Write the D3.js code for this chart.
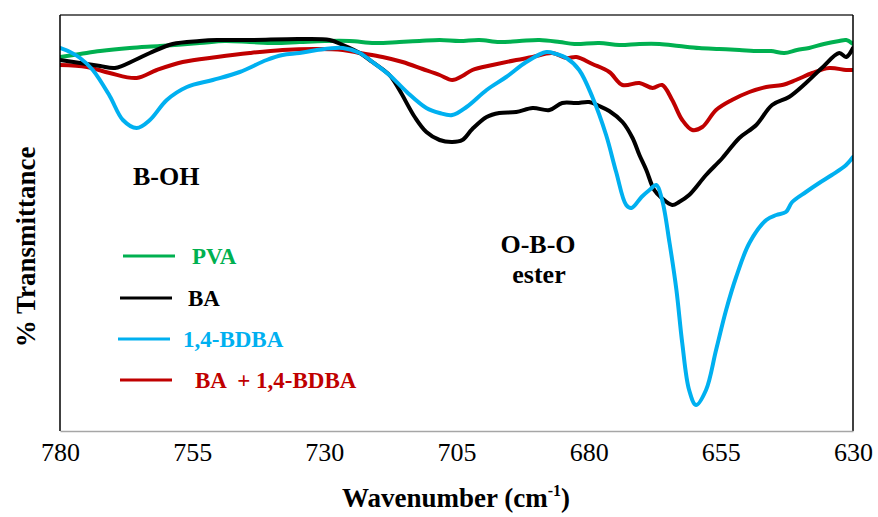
<!DOCTYPE html>
<html>
<head>
<meta charset="utf-8">
<script src="https://cdn.jsdelivr.net/npm/d3@7/dist/d3.min.js"></script>
</head>
<body style="margin:0">
<svg id="chart" width="878" height="517" style="display:block"></svg>
<script>
// FTIR spectra, 780-630 cm-1 (transmittance, arbitrary offset scale)
const xTicks = [780, 755, 730, 705, 680, 655, 630];

const pvaWave = [780.0,776.2,772.4,766.8,761.1,753.6,748.8,744.1,739.4,734.7,729.9,725.2,720.5,715.8,712.0,708.2,704.4,700.7,696.9,693.1,689.3,685.5,682.7,678.0,674.2,670.4,666.6,662.9,659.1,655.3,651.5,647.8,645.5,643.0,640.6,638.3,635.5,632.6,631.3,630.0];
const pvaT    = [93.5,94.25,95.0,95.75,96.25,97.0,97.5,97.25,97.0,97.25,97.5,97.5,97.0,97.25,97.5,97.75,97.5,97.75,97.25,97.5,97.75,97.25,96.75,97.0,96.5,96.75,96.75,96.25,95.75,95.5,95.25,95.0,95.0,94.5,95.25,95.75,96.75,97.5,97.75,96.75];

const baWave = [780.0,776.2,772.4,769.6,765.8,763.0,758.7,753.6,750.3,744.1,734.7,729.0,726.5,723.3,720.9,717.7,715.8,712.9,710.7,708.2,705.8,703.9,702.0,699.3,696.9,693.7,690.6,687.4,685.0,682.3,679.9,678.0,676.1,673.6,671.7,670.4,669.1,667.6,666.2,664.2,662.9,661.0,657.8,654.7,651.5,648.3,645.3,642.1,638.9,635.9,632.6,631.3,630.0];
const baT    = [92.75,92.0,91.25,90.75,92.75,94.5,96.75,97.5,97.75,97.75,98.0,97.75,96.5,94.5,92.25,89.0,85.25,78.5,74.75,72.75,72.25,72.75,75.5,78.5,79.5,79.75,80.75,80.25,82.0,82.0,82.25,81.25,80.0,77.25,73.25,69.0,65.25,60.25,58.25,56.5,57.25,59.0,64.0,68.25,73.25,76.5,81.5,83.5,87.0,90.75,94.5,93.5,95.75];

const bdbaWave = [780.0,778.1,776.2,773.8,770.6,768.1,765.5,763.0,759.8,756.0,751.1,746.0,740.9,737.9,734.7,731.4,726.5,723.3,720.9,717.7,714.4,710.7,708.2,705.8,703.1,699.3,695.6,691.8,688.0,686.1,684.2,681.8,679.3,676.7,674.8,672.9,671.9,670.0,668.5,667.2,666.1,664.7,663.4,662.3,661.0,659.7,657.8,655.9,654.0,652.1,649.6,646.4,644.5,642.7,641.5,638.9,636.4,634.0,631.3,630.0];
const bdbaT    = [95.75,94.75,93.25,90.25,83.75,77.75,75.75,77.75,82.75,86.0,87.75,89.75,92.75,94.0,94.5,95.25,95.75,94.5,92.25,89.0,84.75,80.75,79.5,79.0,81.0,85.25,88.5,92.25,94.75,94.25,93.25,90.25,83.5,74.0,64.75,56.5,55.75,58.5,60.25,61.5,57.75,47.0,35.25,22.0,10.25,6.5,10.25,20.25,30.25,38.5,47.0,52.75,54.0,54.75,57.25,59.75,62.0,64.0,66.5,68.5];

const mixWave = [780.0,774.9,770.6,765.5,761.7,756.8,750.3,744.1,737.9,731.4,726.5,723.3,719.0,715.2,711.4,708.2,705.8,703.9,702.0,698.2,693.7,690.6,686.9,684.2,682.3,679.3,676.1,673.6,670.4,667.9,666.1,664.2,662.3,660.4,658.5,655.9,652.9,649.6,646.4,643.4,640.8,637.7,634.5,631.3,630.0];
const mixT    = [91.5,91.0,89.5,88.25,90.25,92.25,93.5,94.5,95.25,95.5,95.25,94.5,93.5,92.25,90.5,89.0,87.75,88.75,90.25,91.5,92.75,93.5,94.5,93.25,93.5,91.75,89.75,86.5,87.0,85.75,86.5,82.75,77.75,75.25,76.0,80.25,82.75,84.75,86.0,86.5,87.75,89.5,90.75,90.25,90.25];

const seriesNames  = ["PVA", "BA", "1,4-BDBA", "BA  + 1,4-BDBA"];
const seriesColors = ["#00B050", "#000000", "#00B0F0", "#C00000"];

const series = [
  { name: seriesNames[0], color: seriesColors[0], wave: pvaWave,  t: pvaT },
  { name: seriesNames[1], color: seriesColors[1], wave: baWave,   t: baT },
  { name: seriesNames[2], color: seriesColors[2], wave: bdbaWave, t: bdbaT },
  { name: seriesNames[3], color: seriesColors[3], wave: mixWave,  t: mixT }
];

const FONT = '"Liberation Serif"';

// serif text styling, given priority over any inherited font rules
function serif(sel, size, bold) {
  sel.attr("font-family", "Liberation Serif")
     .style("font-family", FONT, "important")
     .style("font-size", size + "px", "important");
  if (bold) sel.style("font-weight", "bold", "important");
  return sel;
}

const svg = d3.select("#chart");
const plot = { left: 60, right: 853, top: 15, bottom: 431 };

const x = d3.scaleLinear().domain([780, 630]).range([plot.left, plot.right]);
const y = d3.scaleLinear().domain([0, 104]).range([plot.bottom, plot.top]);

svg.append("defs").append("clipPath").attr("id", "plotClip")
  .append("rect")
  .attr("x", plot.left).attr("y", plot.top)
  .attr("width", plot.right - plot.left).attr("height", plot.bottom - plot.top);

const line = d3.line()
  .x(d => x(d[0]))
  .y(d => y(d[1]))
  .curve(d3.curveCatmullRom.alpha(0.5));

// draw order: mixture, PVA, BA, 1,4-BDBA on top
const drawOrder = [3, 0, 1, 2];
const gLines = svg.append("g").attr("clip-path", "url(#plotClip)");
drawOrder.forEach(i => {
  const s = series[i];
  gLines.append("path")
    .datum(s.wave.map((w, k) => [w, s.t[k]]))
    .attr("d", line)
    .attr("fill", "none")
    .attr("stroke", s.color)
    .attr("stroke-width", 4)
    .attr("stroke-linejoin", "round")
    .attr("stroke-linecap", "round");
});

// frame
svg.append("line").attr("x1", plot.left).attr("x2", plot.right).attr("y1", plot.top).attr("y2", plot.top)
  .attr("stroke", "#333").attr("stroke-width", 1.5);
svg.append("line").attr("x1", plot.left).attr("x2", plot.left).attr("y1", plot.top).attr("y2", plot.bottom)
  .attr("stroke", "#000").attr("stroke-width", 1.5);
svg.append("line").attr("x1", plot.right).attr("x2", plot.right).attr("y1", plot.top).attr("y2", plot.bottom)
  .attr("stroke", "#000").attr("stroke-width", 1.5);

// x axis (no tick marks, grey baseline)
const xAxis = d3.axisBottom(x).tickValues(xTicks).tickSize(0).tickPadding(12).tickFormat(d3.format("d"));
const gx = svg.append("g").attr("transform", `translate(0,${plot.bottom})`).call(xAxis);
serif(gx, 26, false);
gx.select(".domain").attr("stroke", "#a6a6a6").attr("stroke-width", 1.5);
serif(gx.selectAll("text"), 26, false).attr("fill", "#000");

// axis titles
const xt = serif(svg.append("text"), 27, true)
  .attr("x", 456).attr("y", 507)
  .attr("text-anchor", "middle");
xt.append("tspan").text("Wavenumber (cm");
xt.append("tspan").style("font-size", "16px", "important").attr("dy", -11).text("-1");
xt.append("tspan").attr("dy", 11).text(")");

serif(svg.append("text"), 27, true)
  .attr("transform", "translate(35,247) rotate(-90)")
  .attr("text-anchor", "middle")
  .text("% Transmittance");

// band annotations
const note = (tx, ty, anchor, label) =>
  serif(svg.append("text"), 26, true)
    .attr("x", tx).attr("y", ty).attr("text-anchor", anchor)
    .text(label);
note(133, 185, "start", "B-OH");
note(538, 253, "middle", "O-B-O");
note(539, 283, "middle", "ester");

// legend
const legendRows = [
  { idx: 0, y: 256, x1: 123, x2: 175, tx: 192 },
  { idx: 1, y: 298, x1: 120, x2: 172, tx: 188 },
  { idx: 2, y: 339, x1: 118, x2: 170, tx: 183 },
  { idx: 3, y: 380, x1: 120, x2: 172, tx: 195 }
];
const gLeg = svg.append("g");
legendRows.forEach(r => {
  const s = series[r.idx];
  gLeg.append("line").attr("x1", r.x1).attr("x2", r.x2).attr("y1", r.y).attr("y2", r.y)
    .attr("stroke", s.color).attr("stroke-width", 3);
  serif(gLeg.append("text"), 23, true)
    .attr("x", r.tx).attr("y", r.y + 8)
    .style("white-space", "pre")
    .attr("fill", s.color)
    .text(s.name);
});
</script>
</body>
</html>
